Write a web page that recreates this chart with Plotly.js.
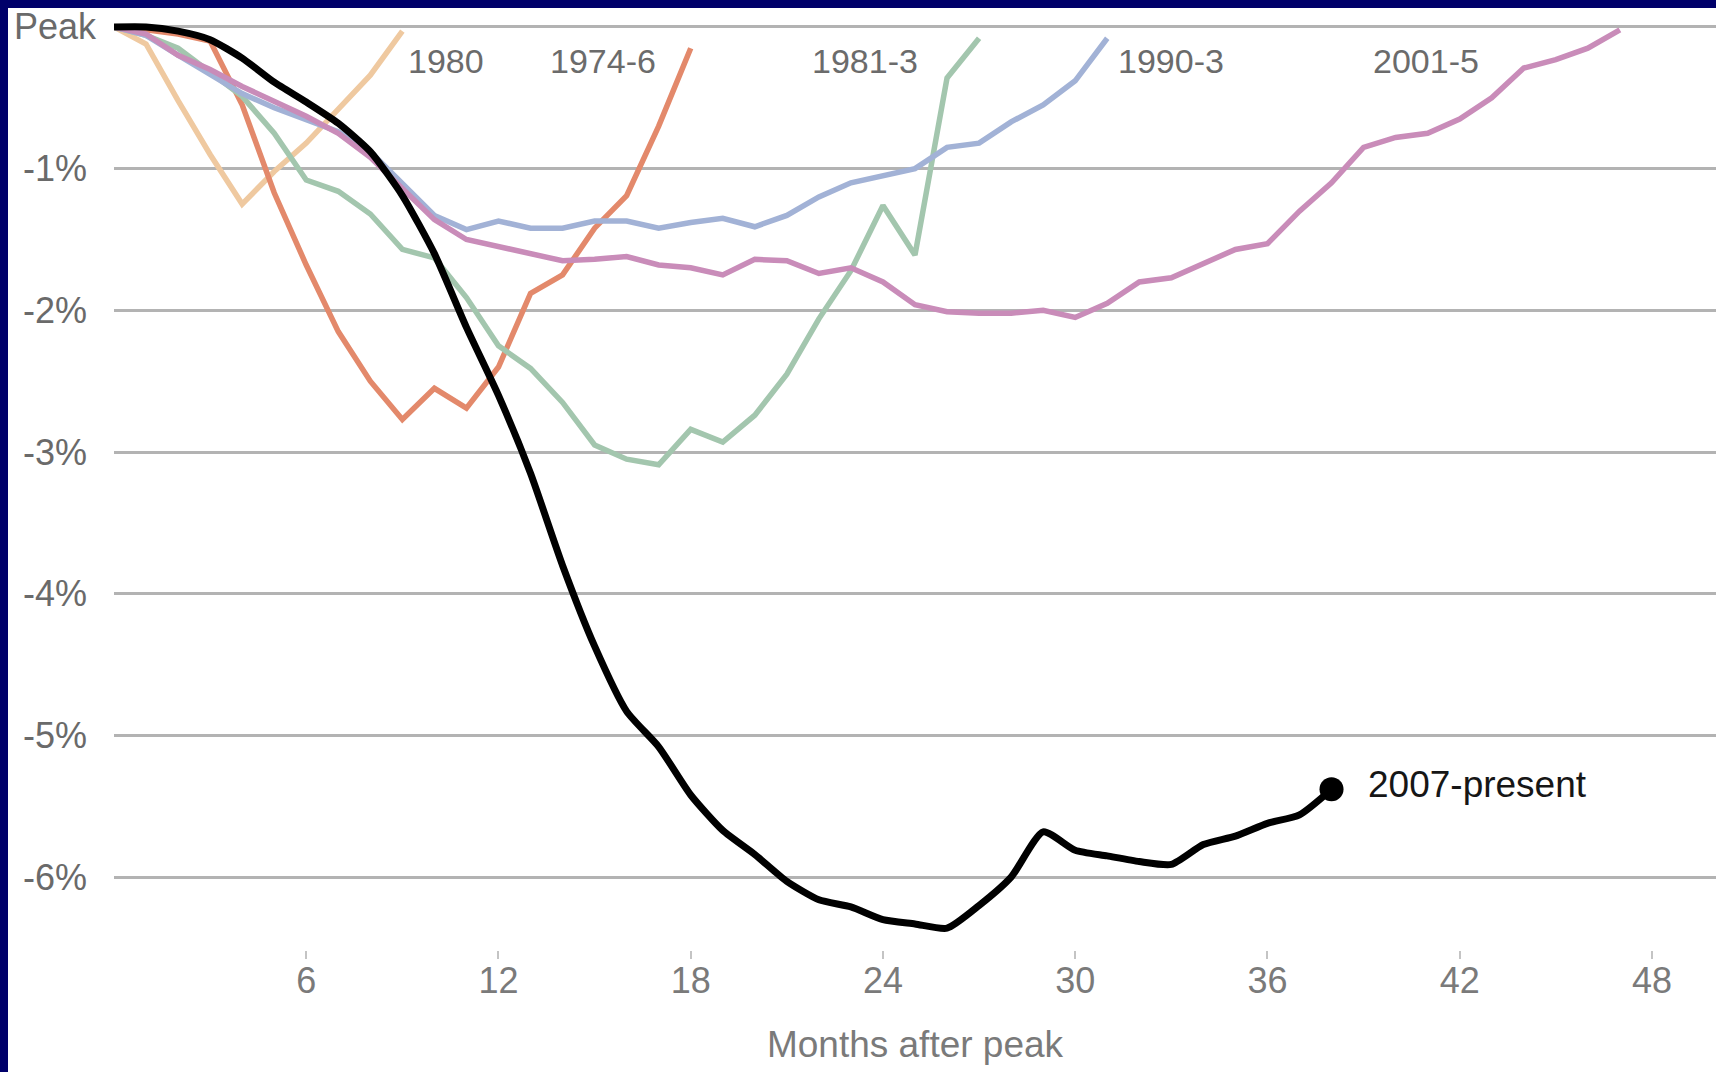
<!DOCTYPE html>
<html>
<head>
<meta charset="utf-8">
<script src="https://cdn.plot.ly/plotly-3.0.1.min.js"></script>
<style>
  html, body { margin: 0; padding: 0; background: #00006a; width: 1716px; height: 1072px; overflow: hidden; }
  #sheet { position: absolute; left: 8px; top: 8px; width: 1708px; height: 1064px; background: #fff; }
  #chart { position: absolute; left: 0; top: 0; width: 1716px; height: 1072px; }
</style>
</head>
<body>
<div id="sheet"></div>
<div id="chart"></div>
<script>
// ---- data (percent change in payroll employment vs. pre-recession peak, by month after peak) ----
const seriesNames = ['1980', '1974-6', '1981-3', '1990-3', '2001-5', '2007-present'];

const r1980 = [0, -0.12, -0.52, -0.9, -1.25, -1.02, -0.82, -0.58, -0.34, -0.03];

const r1974 = [0, -0.02, -0.05, -0.1, -0.55, -1.17, -1.68, -2.15, -2.5, -2.77, -2.55, -2.69,
  -2.4, -1.88, -1.75, -1.42, -1.19, -0.7, -0.15];

const r1981 = [0, -0.06, -0.15, -0.32, -0.49, -0.75, -1.08, -1.16, -1.32, -1.57, -1.63, -1.91,
  -2.25, -2.41, -2.65, -2.95, -3.05, -3.09, -2.84, -2.93, -2.74, -2.45, -2.06, -1.72,
  -1.26, -1.61, -0.36, -0.08];

const r1990 = [0, -0.06, -0.2, -0.33, -0.47, -0.57, -0.65, -0.74, -0.88, -1.1, -1.33, -1.43,
  -1.37, -1.42, -1.42, -1.37, -1.37, -1.42, -1.38, -1.35, -1.41, -1.33, -1.2, -1.1,
  -1.05, -1.0, -0.85, -0.82, -0.67, -0.55, -0.38, -0.08];

const r2001 = [0, -0.05, -0.2, -0.3, -0.42, -0.52, -0.63, -0.75, -0.92, -1.14, -1.36, -1.5,
  -1.55, -1.6, -1.65, -1.64, -1.62, -1.68, -1.7, -1.75, -1.64, -1.65, -1.74, -1.7,
  -1.8, -1.96, -2.01, -2.02, -2.02, -2.0, -2.05, -1.95, -1.8, -1.77, -1.67, -1.57,
  -1.53, -1.3, -1.1, -0.85, -0.78, -0.75, -0.65, -0.5, -0.29, -0.23, -0.15, -0.02];

const r2007 = [0, 0, -0.03, -0.09, -0.22, -0.39, -0.53, -0.68, -0.88, -1.19, -1.6, -2.12,
  -2.6, -3.15, -3.8, -4.37, -4.83, -5.08, -5.42, -5.67, -5.84, -6.03, -6.16, -6.21,
  -6.3, -6.33, -6.36, -6.2, -6.0, -5.68, -5.81, -5.85, -5.89, -5.91, -5.77, -5.71,
  -5.62, -5.56, -5.38];

const xTickVals = [6, 12, 18, 24, 30, 36, 42, 48];
const xTickText = ['6', '12', '18', '24', '30', '36', '42', '48'];
const yTickVals = [0, -1, -2, -3, -4, -5, -6];
const yTickText = ['Peak', '-1%', '-2%', '-3%', '-4%', '-5%', '-6%'];

// ---- styling ----
const FONT = 'Liberation Sans, Arial, Helvetica, sans-serif';
const colors = ['#efc9a0', '#e3896b', '#a3c6ae', '#a2b2d6', '#c98cb9', '#000000'];
const seriesData = [r1980, r1974, r1981, r1990, r2001, r2007];
// label positions (month, value) for the light series labels at the top
const labelPos = [[10.35, -0.24], [15.25, -0.24], [23.45, -0.24], [33.0, -0.24], [40.95, -0.24]];
const Y_LABEL_X = -0.0368; // paper x of the centred y-axis labels

const monthsOf = arr => arr.map((_, i) => i);

const traces = seriesData.map((ys, k) => ({
  type: 'scatter',
  mode: 'lines',
  name: seriesNames[k],
  x: monthsOf(ys),
  y: ys,
  line: k === 5
    ? { color: colors[k], width: 7, shape: 'spline', smoothing: 0.6 }
    : { color: colors[k], width: 5.5 },
  hoverinfo: 'skip',
  showlegend: false
}));

// end dot for the current recession
traces.push({
  type: 'scatter',
  mode: 'markers',
  x: [r2007.length - 1],
  y: [r2007[r2007.length - 1]],
  marker: { color: '#000', size: 24 },
  hoverinfo: 'skip',
  showlegend: false
});

const annotations = labelPos.map((p, k) => ({
  x: p[0], y: p[1], xref: 'x', yref: 'y',
  text: seriesNames[k], showarrow: false,
  xanchor: 'center', yanchor: 'middle',
  font: { family: FONT, size: 34, color: '#6b6b6b' }
}));
annotations.push({
  x: r2007.length - 1, y: r2007[r2007.length - 1], xref: 'x', yref: 'y',
  text: seriesNames[5], showarrow: false,
  xanchor: 'left', yanchor: 'middle', xshift: 34, yshift: 5,
  font: { family: FONT, size: 37, color: '#161616' }
});
// y-axis labels (centred in the left gutter, placed on the y scale)
yTickVals.forEach((v, i) => annotations.push({
  x: Y_LABEL_X, y: v, xref: 'paper', yref: 'y',
  text: yTickText[i], showarrow: false,
  xanchor: 'center', yanchor: 'middle',
  font: { family: FONT, size: 36, color: '#6a6a6a' }
}));

const layout = {
  width: 1716,
  height: 1072,
  margin: { l: 114, r: 0, t: 20, b: 122 },
  paper_bgcolor: 'rgba(0,0,0,0)',
  plot_bgcolor: 'rgba(0,0,0,0)',
  showlegend: false,
  hovermode: false,
  font: { family: FONT },
  xaxis: {
    range: [0, 50],
    tickvals: xTickVals,
    ticktext: xTickText,
    ticks: 'outside',
    ticklen: 8,
    tickwidth: 2,
    tickcolor: '#c4c4c4',
    ticklabelstandoff: -9,
    showgrid: false,
    zeroline: false,
    showline: false,
    tickfont: { family: FONT, size: 36, color: '#7a7a7a' },
    title: { text: 'Months after peak', font: { family: FONT, size: 37, color: '#7a7a7a' }, standoff: 30 },
    automargin: false,
    fixedrange: true
  },
  yaxis: {
    range: [-6.514, 0.049],
    tickvals: yTickVals,
    ticktext: yTickText,
    showticklabels: false,
    ticks: '',
    showgrid: true,
    gridcolor: '#b3b3b3',
    gridwidth: 3,
    zeroline: false,
    showline: false,
    automargin: false,
    fixedrange: true
  },
  annotations: annotations
};

Plotly.newPlot('chart', traces, layout, { displayModeBar: false, staticPlot: true });
</script>
</body>
</html>
